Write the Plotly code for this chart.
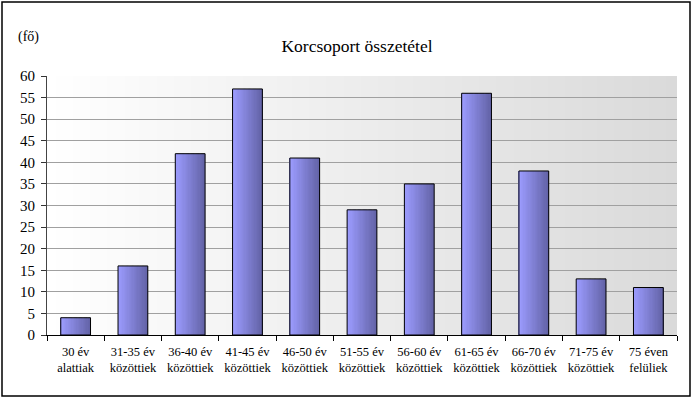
import base64, struct, zlib
import plotly.graph_objects as go

categories = ["30 év<br>alattiak", "31-35 év<br>közöttiek", "36-40 év<br>közöttiek",
              "41-45 év<br>közöttiek", "46-50 év<br>közöttiek", "51-55 év<br>közöttiek",
              "56-60 év<br>közöttiek", "61-65 év<br>közöttiek", "66-70 év<br>közöttiek",
              "71-75 év<br>közöttiek", "75 éven<br>felüliek"]
values = [4, 16, 42, 57, 41, 29, 35, 56, 38, 13, 11]
y_ticks = list(range(0, 65, 5))

FONT = "Liberation Serif"

def png_hgrad(c0, c1, w=256):
    row = b"\x00"
    for i in range(w):
        t = i / (w - 1)
        row += bytes(int(round(a + (b - a) * t)) for a, b in zip(c0, c1))
    def chunk(tag, data):
        return struct.pack(">I", len(data)) + tag + data + struct.pack(">I", zlib.crc32(tag + data) & 0xffffffff)
    png = b"\x89PNG\r\n\x1a\n" + chunk(b"IHDR", struct.pack(">IIBBBBB", w, 1, 8, 2, 0, 0, 0))
    png += chunk(b"IDAT", zlib.compress(row)) + chunk(b"IEND", b"")
    return "data:image/png;base64," + base64.b64encode(png).decode()

fig = go.Figure()

BAR_W = 0.52
N = 24
c_left = (156, 156, 255)
c_right = (100, 100, 168)
for k in range(N):
    t = k / (N - 1)
    col = "rgb(%d,%d,%d)" % tuple(int(round(a + (b - a) * t)) for a, b in zip(c_left, c_right))
    fig.add_trace(go.Bar(x=categories, y=values, width=BAR_W / N + 0.002,
                         offset=-BAR_W / 2 + k * BAR_W / N,
                         marker=dict(color=col, line=dict(width=0)),
                         hoverinfo="skip", showlegend=False))
fig.add_trace(go.Bar(x=categories, y=values, width=BAR_W, offset=-BAR_W / 2,
                     marker=dict(color="rgba(0,0,0,0)", line=dict(color="black", width=1)),
                     showlegend=False))

L, R, T, B = 47, 16, 76, 65
pw, ph = 693 - L - R, 400 - T - B

fig.update_layout(
    width=693, height=400,
    margin=dict(l=L, r=R, t=T, b=B, autoexpand=False),
    barmode="overlay",
    paper_bgcolor="white",
    plot_bgcolor="rgba(0,0,0,0)",
    font=dict(family=FONT, color="black"),
    title=dict(text="Korcsoport összetétel", x=357 / 693, xanchor="center",
               y=1 - 46 / 400, yanchor="middle", font=dict(size=17.5, family=FONT)),
    xaxis=dict(type="category", tickson="boundaries", ticks="outside", ticklen=5,
               tickcolor="black", showline=True, linecolor="black", linewidth=1,
               showgrid=False, tickangle=0, ticklabelstandoff=5,
               tickfont=dict(size=12.5, family=FONT)),
    yaxis=dict(range=[0, 60], tickvals=y_ticks, ticks="outside", ticklen=5,
               tickcolor="#333", showline=True, linecolor="#444", linewidth=1,
               showgrid=True, gridcolor="#a0a0a0", gridwidth=1, ticklabelstandoff=3,
               tickfont=dict(size=15, family=FONT), zeroline=False),
    images=[dict(source=png_hgrad((255, 255, 255), (218, 218, 218)),
                 xref="paper", yref="paper", x=0, y=1, sizex=1, sizey=1,
                 sizing="stretch", layer="below", xanchor="left", yanchor="top")],
    shapes=[dict(type="rect", xref="paper", yref="paper",
                 x0=(2 - L) / pw, x1=(690 - L) / pw,
                 y0=(400 - B - 396) / ph, y1=(400 - B - 2) / ph,
                 line=dict(color="black", width=1.5), fillcolor="rgba(0,0,0,0)")],
    annotations=[dict(text="(fő)", xref="paper", yref="paper",
                      x=(16 - L) / pw, y=(400 - B - 37) / ph, xanchor="left", yanchor="middle",
                      showarrow=False, font=dict(size=14, family=FONT))],
)

fig.write_html("out.html", config={"displayModeBar": False},
               post_script="document.body.style.margin='0';")
